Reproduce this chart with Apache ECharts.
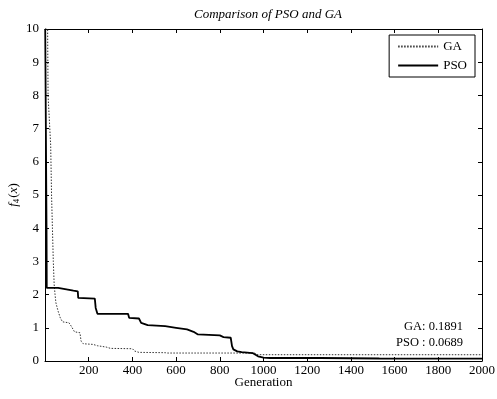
<!DOCTYPE html>
<html>
<head>
<meta charset="utf-8">
<script src="https://cdn.jsdelivr.net/npm/echarts@6/dist/echarts.min.js"></script>
<style>html,body{margin:0;padding:0;background:#fff;}#c{width:497px;height:399px;}</style>
</head>
<body>
<div id="c"></div>
<script>
// Data
const gaGen = [1, 12, 14, 22, 26, 30, 34, 38, 42, 46, 50, 60, 70, 80, 110, 120, 135, 160, 165, 175, 220, 240, 280, 300, 400, 410, 430, 550, 560, 960, 970, 2000];
const gaVal = [10, 10, 8, 8, 6.5, 5, 4, 3, 2.3, 2.0, 1.75, 1.5, 1.3, 1.18, 1.15, 1.05, 0.88, 0.85, 0.6, 0.52, 0.5, 0.46, 0.42, 0.38, 0.37, 0.3, 0.26, 0.25, 0.24, 0.24, 0.19, 0.1891];
const psoGen = [1, 5, 7, 8, 60, 62, 130, 150, 152, 228, 232, 240, 380, 385, 430, 440, 470, 550, 600, 650, 680, 700, 800, 817, 850, 856, 862, 880, 900, 950, 975, 1000, 1030, 1260, 1265, 1530, 1535, 2000];
const psoVal = [10, 10, 4, 2.2, 2.2, 2.15, 2.12, 2.1, 1.9, 1.88, 1.6, 1.42, 1.42, 1.3, 1.28, 1.15, 1.08, 1.05, 1.0, 0.95, 0.88, 0.8, 0.77, 0.72, 0.7, 0.45, 0.35, 0.29, 0.27, 0.24, 0.14, 0.1, 0.09, 0.09, 0.075, 0.075, 0.0689, 0.0689];
const xTicks = [0, 200, 400, 600, 800, 1000, 1200, 1400, 1600, 1800, 2000];
const yTicks = [0, 1, 2, 3, 4, 5, 6, 7, 8, 9, 10];
const seriesNames = ['GA', 'PSO'];
const finalText = ['GA: 0.1891', 'PSO : 0.0689'];

const zip = (a, b) => a.map((v, i) => [v, b[i]]);
const FONT = 'Liberation Serif';
const chart = echarts.init(document.getElementById('c'), null, {renderer: 'canvas'});
const axisCommon = {
  type: 'value',
  axisLine: {show: true, onZero: false, lineStyle: {color: '#000', width: 1}},
  axisTick: {show: true, inside: true, length: 4, lineStyle: {color: '#000'}},
  splitLine: {show: false},
  axisLabel: {color: '#000', fontFamily: FONT, fontSize: 13}
};
chart.setOption({
  animation: false,
  backgroundColor: '#fff',
  title: {
    text: 'Comparison of PSO and GA', left: 263, top: 3, textAlign: 'center',
    textStyle: {fontFamily: FONT, fontStyle: 'italic', fontWeight: 'normal', fontSize: 13, color: '#000'}
  },
  grid: {left: 45, right: 15, top: 29, bottom: 38, containLabel: false, outerBoundsMode: 'none'},
  legend: {
    data: seriesNames, orient: 'vertical', right: 22, top: 35,
    backgroundColor: '#fff', borderColor: '#000', borderWidth: 1,
    padding: [5, 8, 5, 8], itemGap: 6, itemWidth: 40, itemHeight: 10,
    itemStyle: {opacity: 0},
    textStyle: {fontFamily: FONT, fontSize: 13, color: '#000'}
  },
  xAxis: [
    Object.assign({}, axisCommon, {
      min: 0, max: 2000, interval: 200, position: 'bottom',
      axisLabel: Object.assign({}, axisCommon.axisLabel, {formatter: v => (v === 0 ? '' : String(v)), margin: 3, customValues: xTicks}),
      name: 'Generation', nameLocation: 'middle', nameGap: 15, nameMoveOverlap: false,
      nameTextStyle: {fontFamily: FONT, fontSize: 13, color: '#000'}
    }),
    Object.assign({}, axisCommon, {min: 0, max: 2000, interval: 200, position: 'top', axisLabel: {show: false}})
  ],
  yAxis: [
    Object.assign({}, axisCommon, {
      min: 0, max: 10, interval: 1, position: 'left',
      axisLabel: Object.assign({}, axisCommon.axisLabel, {margin: 6}),
      name: '{i|f}{s|4}{n|(}{i|x}{n|)}', nameLocation: 'middle', nameGap: 24, nameRotate: 90, nameMoveOverlap: false,
      nameTextStyle: {
        color: '#000', fontFamily: FONT, fontSize: 13,
        rich: {
          i: {fontFamily: FONT, fontStyle: 'italic', fontSize: 13, color: '#000'},
          n: {fontFamily: FONT, fontSize: 13, color: '#000'},
          s: {fontFamily: FONT, fontSize: 9, color: '#000', padding: [6, 1, 0, 0]}
        }
      }
    }),
    Object.assign({}, axisCommon, {min: 0, max: 10, interval: 1, position: 'right', axisLabel: {show: false}})
  ],
  series: [
    {
      name: seriesNames[0], type: 'line', symbol: 'none', data: zip(gaGen, gaVal),
      lineStyle: {color: '#333', width: 1, type: [1.5, 1.5]}, itemStyle: {color: '#333'}, z: 3
    },
    {
      name: seriesNames[1], type: 'line', symbol: 'none', data: zip(psoGen, psoVal),
      lineStyle: {color: '#000', width: 1.8}, itemStyle: {color: '#000'}, z: 4
    }
  ],
  graphic: [
    {type: 'text', right: 34, top: 320, style: {text: finalText[0], fontFamily: FONT, fontSize: 12.5, fill: '#000', textAlign: 'right'}},
    {type: 'text', right: 34, top: 336, style: {text: finalText[1], fontFamily: FONT, fontSize: 12.5, fill: '#000', textAlign: 'right'}}
  ]
});
</script>
</body>
</html>
